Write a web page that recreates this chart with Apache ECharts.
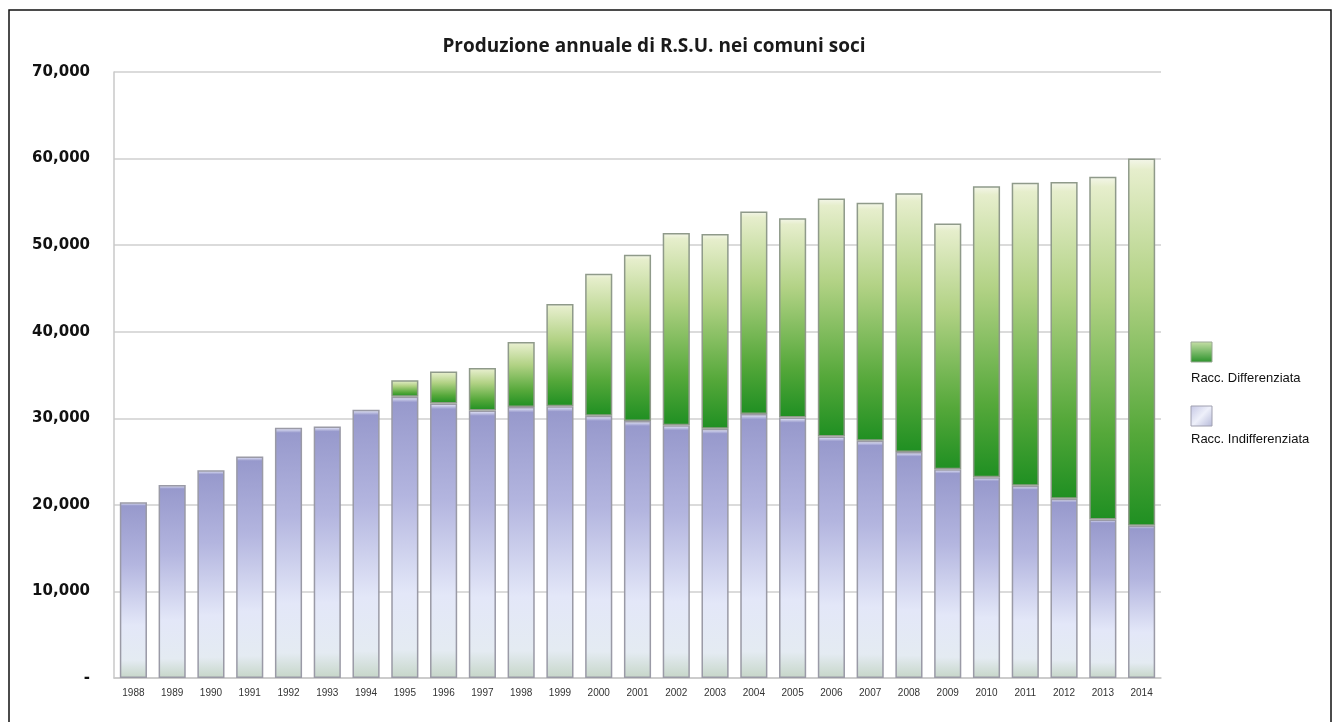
<!DOCTYPE html>
<html>
<head>
<meta charset="utf-8">
<script src="https://cdn.jsdelivr.net/npm/echarts@6/dist/echarts.min.js"></script>
<style>
  html, body { margin: 0; padding: 0; background: #fff; }
  #chart { width: 1338px; height: 722px; }
</style>
</head>
<body>
<div id="chart"></div>
<script>
// years on the x axis
const years = ['1988', '1989', '1990', '1991', '1992', '1993', '1994', '1995', '1996',
    '1997', '1998', '1999', '2000', '2001', '2002', '2003', '2004', '2005', '2006',
    '2007', '2008', '2009', '2010', '2011', '2012', '2013', '2014'];

// tonnes
const indifferenziata = [20300, 22300, 24000, 25600, 28900, 29050, 31000, 32500, 31700,
    30900, 31300, 31400, 30300, 29700, 29200, 28800, 30500, 30100, 27900,
    27400, 26100, 24100, 23200, 22200, 20700, 18300, 17600];
const differenziata = [0, 0, 0, 0, 0, 0, 0, 1900, 3700,
    4900, 7500, 11800, 16400, 19200, 22200, 22500, 23400, 23000, 27500,
    27500, 29900, 28400, 33600, 35000, 36600, 39600, 42400];

const yTicks = [0, 10000, 20000, 30000, 40000, 50000, 60000, 70000];

const titleText = 'Produzione annuale di R.S.U. nei comuni soci';
const nameDiff = 'Racc. Differenziata';
const nameIndiff = 'Racc. Indifferenziata';

const blueFill = new echarts.graphic.LinearGradient(0, 0, 0, 1, [
    {offset: 0, color: '#f2f4ff'},
    {offset: 0.02, color: '#9799cc'},
    {offset: 0.35, color: '#b3b5df'},
    {offset: 0.7, color: '#e3e7f8'},
    {offset: 0.9, color: '#e4ebf2'},
    {offset: 1, color: '#c6d6c8'}
]);
const greenFill = new echarts.graphic.LinearGradient(0, 0, 0, 1, [
    {offset: 0, color: '#f4f6ea'},
    {offset: 0.03, color: '#e6eecc'},
    {offset: 0.35, color: '#b2d285'},
    {offset: 0.75, color: '#55a83a'},
    {offset: 1, color: '#1f8f22'}
]);

const chart = echarts.init(document.getElementById('chart'));

chart.setOption({
    animation: false,
    title: {
        text: titleText,
        left: 649,
        top: 32,
        textAlign: 'center',
        textStyle: {
            fontFamily: 'Open Sans',
            fontWeight: 'bold',
            fontSize: 19,
            color: '#1a1a1a'
        }
    },
    grid: {
        left: 114,
        right: 177,
        top: 72,
        bottom: 44
    },
    xAxis: {
        type: 'category',
        data: years,
        axisTick: {show: false},
        axisLine: {lineStyle: {color: '#c8c8c8', width: 1.5}},
        axisLabel: {
            fontFamily: 'Liberation Sans',
            fontSize: 10,
            color: '#333',
            margin: 10
        }
    },
    yAxis: {
        type: 'value',
        min: 0,
        max: 70000,
        interval: 10000,
        axisLine: {show: true, lineStyle: {color: '#c8c8c8', width: 1.5}},
        axisTick: {show: false},
        splitLine: {lineStyle: {color: '#cfcfcf', width: 1.5}},
        axisLabel: {
            margin: 24,
            fontFamily: 'DejaVu Sans',
            fontWeight: 'bold',
            fontSize: 15,
            color: '#111',
            formatter: function (v) {
                if (yTicks.indexOf(v) < 0) return '';
                return v === 0 ? '-' : v.toLocaleString('en-US');
            }
        }
    },
    series: [
        {
            name: nameIndiff,
            type: 'bar',
            stack: 'rsu',
            barCategoryGap: '30%',
            data: indifferenziata,
            itemStyle: {
                color: blueFill,
                borderColor: '#9a9aa6',
                borderWidth: 1.5
            }
        },
        {
            name: nameDiff,
            type: 'bar',
            stack: 'rsu',
            data: differenziata.map(v => v === 0 ? null : v),
            itemStyle: {
                color: greenFill,
                borderColor: '#8f9a8a',
                borderWidth: 1.5
            }
        }
    ],
    graphic: [
        {
            type: 'rect',
            shape: {x: 9, y: 10, width: 1322, height: 730},
            style: {fill: 'none', stroke: '#111', lineWidth: 1.5},
            silent: true
        },
        {
            type: 'rect',
            shape: {x: 1191, y: 342, width: 21, height: 20},
            style: {
                fill: new echarts.graphic.LinearGradient(0, 0, 0, 1, [
                    {offset: 0, color: '#c8e0a8'},
                    {offset: 1, color: '#2a922a'}
                ]),
                stroke: '#9aa894',
                lineWidth: 1
            }
        },
        {
            type: 'text',
            left: 1191,
            top: 372,
            style: {
                text: nameDiff,
                font: '13px "Liberation Sans"',
                fill: '#111'
            }
        },
        {
            type: 'rect',
            shape: {x: 1191, y: 406, width: 21, height: 20},
            style: {
                fill: new echarts.graphic.LinearGradient(0, 0, 1, 1, [
                    {offset: 0, color: '#c4c6e4'},
                    {offset: 0.5, color: '#eef0fa'},
                    {offset: 1, color: '#b4b8d8'}
                ]),
                stroke: '#a0a0b0',
                lineWidth: 1
            }
        },
        {
            type: 'text',
            left: 1191,
            top: 433,
            style: {
                text: nameIndiff,
                font: '13px "Liberation Sans"',
                fill: '#111'
            }
        }
    ]
});
</script>
</body>
</html>
